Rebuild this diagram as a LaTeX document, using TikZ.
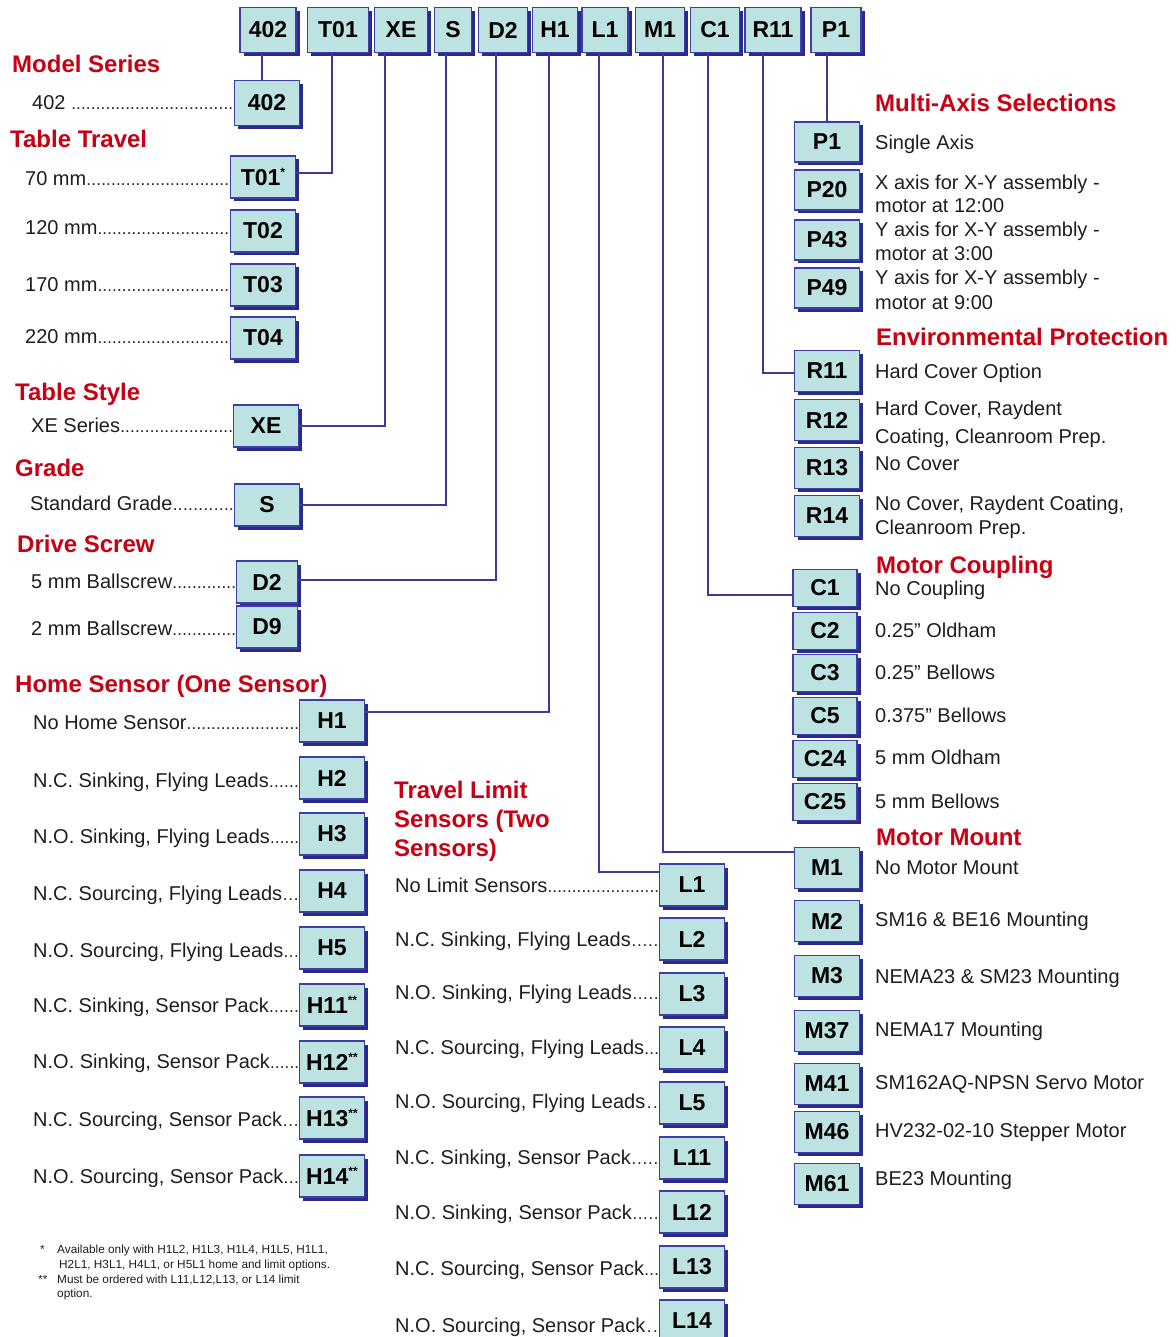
\documentclass[tikz,border=0pt]{standalone}
\usepackage{fontspec}
\setmainfont{Liberation Sans}
\usetikzlibrary{shadows}
\definecolor{boxfill}{RGB}{188,226,226}
\definecolor{boxline}{RGB}{62,62,165}
\definecolor{shade}{RGB}{42,42,142}
\definecolor{conncol}{RGB}{58,58,158}
\definecolor{headred}{RGB}{200,0,20}
\definecolor{txt}{RGB}{30,30,30}
\newcommand\ldr[2]{\makebox[#1][l]{#2\xleaders\hbox to 4.8pt{\hss\fontsize{17}{17}\selectfont.\hss}\hfill}}
\newcommand\sst[1]{\raisebox{9pt}{\fontsize{12}{12}\selectfont #1}}
\tikzset{
  codebox/.style={rectangle, draw=boxline, line width=1.4pt, fill=boxfill,
    minimum width=65pt, minimum height=42pt, inner sep=0pt,
    font=\fontsize{23}{23}\selectfont\bfseries, text=black,
    drop shadow={shadow xshift=3.5pt, shadow yshift=-3.5pt, fill=shade, opacity=1}},
  topbox/.style={codebox, minimum height=45pt},
  head/.style={anchor=base west, inner sep=0pt, font=\fontsize{24}{28}\selectfont\bfseries, text=headred},
  desc/.style={anchor=base west, inner sep=0pt, font=\fontsize{20}{24}\selectfont, text=txt},
  foot/.style={anchor=base west, inner sep=0pt, font=\fontsize{11.8}{13}\selectfont, text=txt},
  conn/.style={draw=conncol, line width=2.1pt},
}
\begin{document}
\begin{tikzpicture}[x=1pt,y=-1pt]
\useasboundingbox (0,0) rectangle (1175,1337);
\fill[white] (0,0) rectangle (1175,1337);

% ---------- top row ----------
\node[topbox, minimum width=56pt] (t402) at (268,30) {402};
\node[topbox, minimum width=61pt] (tT01) at (338,30) {T01};
\node[topbox, minimum width=53pt] (tXE) at (401,30) {XE};
\node[topbox, minimum width=37pt] (tS) at (453,30) {S};
\node[topbox, minimum width=49pt] (tD2) at (503,30) {D2};
\node[topbox, minimum width=45pt] (tH1) at (555,30) {H1};
\node[topbox, minimum width=46pt] (tL1) at (605,30) {L1};
\node[topbox, minimum width=49pt] (tM1) at (660,30) {M1};
\node[topbox, minimum width=49pt] (tC1) at (715,30) {C1};
\node[topbox, minimum width=56pt] (tR11) at (773,30) {R11};
\node[topbox, minimum width=50pt] (tP1) at (836,30) {P1};

% ---------- headings ----------
\node[head] (hModel) at (12,72.6) {Model Series};
\node[head] (hTravel) at (10,147.6) {Table Travel};
\node[head] (hStyle) at (15,400.6) {Table Style};
\node[head] (hGrade) at (15,476.6) {Grade};
\node[head] (hDrive) at (17,552.6) {Drive Screw};
\node[head] (hHome) at (15,692.6) {Home Sensor (One Sensor)};
\node[head] (hLimA) at (394,798.6) {Travel Limit};
\node[head] (hLimB) at (394,827.6) {Sensors (Two};
\node[head] (hLimC) at (394,856.6) {Sensors)};
\node[head] (hMulti) at (875,111.6) {Multi-Axis Selections};
\node[head] (hEnv) at (876,345.6) {Environmental Protection};
\node[head] (hCoup) at (876,573.6) {Motor Coupling};
\node[head] (hMount) at (876,845.6) {Motor Mount};

% ---------- left column ----------
\node[codebox, minimum height=45pt] (b402) at (267,103) {402};
\node[desc] (d402) at (32,109.2) {\ldr{201pt}{402\ }};

\node[codebox] (T01) at (263,177) {T01\sst{*}};
\node[codebox] (T02) at (263,231) {T02};
\node[codebox] (T03) at (263,285) {T03};
\node[codebox] (T04) at (263,338) {T04};
\node[desc] (dT01) at (25,185.2) {\ldr{204pt}{70 mm}};
\node[desc] (dT02) at (25,234.2) {\ldr{204pt}{120 mm}};
\node[desc] (dT03) at (25,291.2) {\ldr{204pt}{170 mm}};
\node[desc] (dT04) at (25,343.2) {\ldr{204pt}{220 mm}};

\node[codebox] (XE) at (266,426) {XE};
\node[desc] (dXE) at (31,432.2) {\ldr{202pt}{XE Series}};

\node[codebox] (S) at (267,505) {S};
\node[desc] (dS) at (30,510.2) {\ldr{204pt}{Standard Grade}};

\node[codebox, minimum width=61pt] (D2) at (267,582) {D2};
\node[codebox, minimum width=61pt] (D9) at (267,627) {D9};
\node[desc] (dD2) at (31,588.2) {\ldr{205pt}{5 mm Ballscrew}};
\node[desc] (dD9) at (31,635.2) {\ldr{205pt}{2 mm Ballscrew}};

\node[codebox] (H1) at (332,721) {H1};
\node[codebox] (H2) at (332,778) {H2};
\node[codebox] (H3) at (332,834) {H3};
\node[codebox] (H4) at (332,891) {H4};
\node[codebox] (H5) at (332,948) {H5};
\node[codebox] (H11) at (332,1005) {H11\sst{**}};
\node[codebox] (H12) at (332,1062) {H12\sst{**}};
\node[codebox] (H13) at (332,1118) {H13\sst{**}};
\node[codebox] (H14) at (332,1176) {H14\sst{**}};
\node[desc] (dH1) at (33,729.2) {\ldr{266pt}{No Home Sensor}};
\node[desc] (dH2) at (33,787.2) {\ldr{266pt}{N.C. Sinking, Flying Leads}};
\node[desc] (dH3) at (33,843.2) {\ldr{266pt}{N.O. Sinking, Flying Leads}};
\node[desc] (dH4) at (33,900.2) {\ldr{266pt}{N.C. Sourcing, Flying Leads}};
\node[desc] (dH5) at (33,957.2) {\ldr{266pt}{N.O. Sourcing, Flying Leads}};
\node[desc] (dH11) at (33,1012.2) {\ldr{266pt}{N.C. Sinking, Sensor Pack}};
\node[desc] (dH12) at (33,1068.2) {\ldr{266pt}{N.O. Sinking, Sensor Pack}};
\node[desc] (dH13) at (33,1126.2) {\ldr{266pt}{N.C. Sourcing, Sensor Pack}};
\node[desc] (dH14) at (33,1183.2) {\ldr{266pt}{N.O. Sourcing, Sensor Pack}};

% ---------- middle column ----------
\node[codebox] (L1) at (692,885) {L1};
\node[codebox] (L2) at (692,939) {L2};
\node[codebox] (L3) at (692,994) {L3};
\node[codebox] (L4) at (692,1048) {L4};
\node[codebox] (L5) at (692,1103) {L5};
\node[codebox] (L11) at (692,1158) {L11};
\node[codebox] (L12) at (692,1212) {L12};
\node[codebox] (L13) at (692,1267) {L13};
\node[codebox] (L14) at (692,1321) {L14};
\node[desc] (dL1) at (395,892.2) {\ldr{264pt}{No Limit Sensors}};
\node[desc] (dL2) at (395,946.2) {\ldr{264pt}{N.C. Sinking, Flying Leads}};
\node[desc] (dL3) at (395,999.2) {\ldr{264pt}{N.O. Sinking, Flying Leads}};
\node[desc] (dL4) at (395,1054.2) {\ldr{264pt}{N.C. Sourcing, Flying Leads}};
\node[desc] (dL5) at (395,1108.2) {\ldr{264pt}{N.O. Sourcing, Flying Leads}};
\node[desc] (dL11) at (395,1164.2) {\ldr{264pt}{N.C. Sinking, Sensor Pack}};
\node[desc] (dL12) at (395,1219.2) {\ldr{264pt}{N.O. Sinking, Sensor Pack}};
\node[desc] (dL13) at (395,1275.2) {\ldr{264pt}{N.C. Sourcing, Sensor Pack}};
\node[desc] (dL14) at (395,1332.2) {\ldr{264pt}{N.O. Sourcing, Sensor Pack}};

% ---------- right column ----------
\node[codebox, minimum height=40pt] (P1) at (827,142) {P1};
\node[codebox, minimum height=40pt] (P20) at (827,190) {P20};
\node[codebox, minimum height=40pt] (P43) at (827,240) {P43};
\node[codebox, minimum height=40pt] (P49) at (827,288) {P49};
\node[desc] (dP1) at (875,149.2) {Single Axis};
\node[desc] (dP20a) at (875,189.2) {X axis for X-Y assembly -};
\node[desc] (dP20b) at (875,212.2) {motor at 12:00};
\node[desc] (dP43a) at (875,236.2) {Y axis for X-Y assembly -};
\node[desc] (dP43b) at (875,260.2) {motor at 3:00};
\node[desc] (dP49a) at (875,284.2) {Y axis for X-Y assembly -};
\node[desc] (dP49b) at (875,309.2) {motor at 9:00};

\node[codebox, minimum height=41pt] (R11) at (827,371) {R11};
\node[codebox, minimum height=41pt] (R12) at (827,420) {R12};
\node[codebox, minimum height=41pt] (R13) at (827,468) {R13};
\node[codebox, minimum height=41pt] (R14) at (827,516) {R14};
\node[desc] (dR11) at (875,378.2) {Hard Cover Option};
\node[desc] (dR12a) at (875,415.2) {Hard Cover, Raydent};
\node[desc] (dR12b) at (875,443.2) {Coating, Cleanroom Prep.};
\node[desc] (dR13) at (875,470.2) {No Cover};
\node[desc] (dR14a) at (875,510.2) {No Cover, Raydent Coating,};
\node[desc] (dR14b) at (875,534.2) {Cleanroom Prep.};

\node[codebox, minimum height=37pt, minimum width=64pt] (C1) at (825,588) {C1};
\node[codebox, minimum height=37pt, minimum width=64pt] (C2) at (825,631) {C2};
\node[codebox, minimum height=37pt, minimum width=64pt] (C3) at (825,673) {C3};
\node[codebox, minimum height=37pt, minimum width=64pt] (C5) at (825,716) {C5};
\node[codebox, minimum height=37pt, minimum width=64pt] (C24) at (825,759) {C24};
\node[codebox, minimum height=37pt, minimum width=64pt] (C25) at (825,802) {C25};
\node[desc] (dC1) at (875,595.2) {No Coupling};
\node[desc] (dC2) at (875,637.2) {0.25” Oldham};
\node[desc] (dC3) at (875,679.2) {0.25” Bellows};
\node[desc] (dC5) at (875,722.2) {0.375” Bellows};
\node[desc] (dC24) at (875,764.2) {5 mm Oldham};
\node[desc] (dC25) at (875,808.2) {5 mm Bellows};

\node[codebox, minimum height=41pt] (M1) at (827,868) {M1};
\node[codebox, minimum height=41pt] (M2) at (827,921) {M2};
\node[codebox, minimum height=41pt] (M3) at (827,976) {M3};
\node[codebox, minimum height=41pt] (M37) at (827,1031) {M37};
\node[codebox, minimum height=41pt] (M41) at (827,1084) {M41};
\node[codebox, minimum height=41pt] (M46) at (827,1132) {M46};
\node[codebox, minimum height=41pt] (M61) at (827,1184) {M61};
\node[desc] (dM1) at (875,874.2) {No Motor Mount};
\node[desc] (dM2) at (875,926.2) {SM16 \& BE16 Mounting};
\node[desc] (dM3) at (875,983.2) {NEMA23 \& SM23 Mounting};
\node[desc] (dM37) at (875,1036.2) {NEMA17 Mounting};
\node[desc] (dM41) at (875,1089.2) {SM162AQ-NPSN Servo Motor};
\node[desc] (dM46) at (875,1137.2) {HV232-02-10 Stepper Motor};
\node[desc] (dM61) at (875,1185.2) {BE23 Mounting};

% ---------- connectors ----------
\draw[conn] ([xshift=-6pt]t402.south) -- ([xshift=-5pt]b402.north);
\draw[conn] ([xshift=-6pt]tT01.south) |- ([yshift=4pt]T01.east);
\draw[conn] ([xshift=-16pt]tXE.south) |- (XE.east);
\draw[conn] ([xshift=-7pt]tS.south) |- (S.east);
\draw[conn] ([xshift=-7pt]tD2.south) |- ([yshift=2pt]D2.east);
\draw[conn] ([xshift=-6pt]tH1.south) |- ([yshift=9pt]H1.east);
\draw[conn] ([xshift=-6pt]tL1.south) |- ([yshift=13pt]L1.west);
\draw[conn] ([xshift=3pt]tM1.south) |- ([yshift=16pt]M1.west);
\draw[conn] ([xshift=-7pt]tC1.south) |- ([yshift=-7pt]C1.west);
\draw[conn] ([xshift=-10pt]tR11.south) |- ([yshift=-2pt]R11.west);
\draw[conn] ([xshift=-9pt]tP1.south) -- (P1.north);

% ---------- footnotes ----------
\node[foot] (f1s) at (40,1253) {*};
\node[foot] (f1a) at (57,1253) {Available only with H1L2, H1L3, H1L4, H1L5, H1L1,};
\node[foot] (f1b) at (59,1268) {H2L1, H3L1, H4L1, or H5L1 home and limit options.};
\node[foot] (f2s) at (38,1283) {**};
\node[foot] (f2a) at (57,1283) {Must be ordered with L11,L12,L13, or L14 limit};
\node[foot] (f2b) at (57,1297) {option.};
\end{tikzpicture}
\end{document}
